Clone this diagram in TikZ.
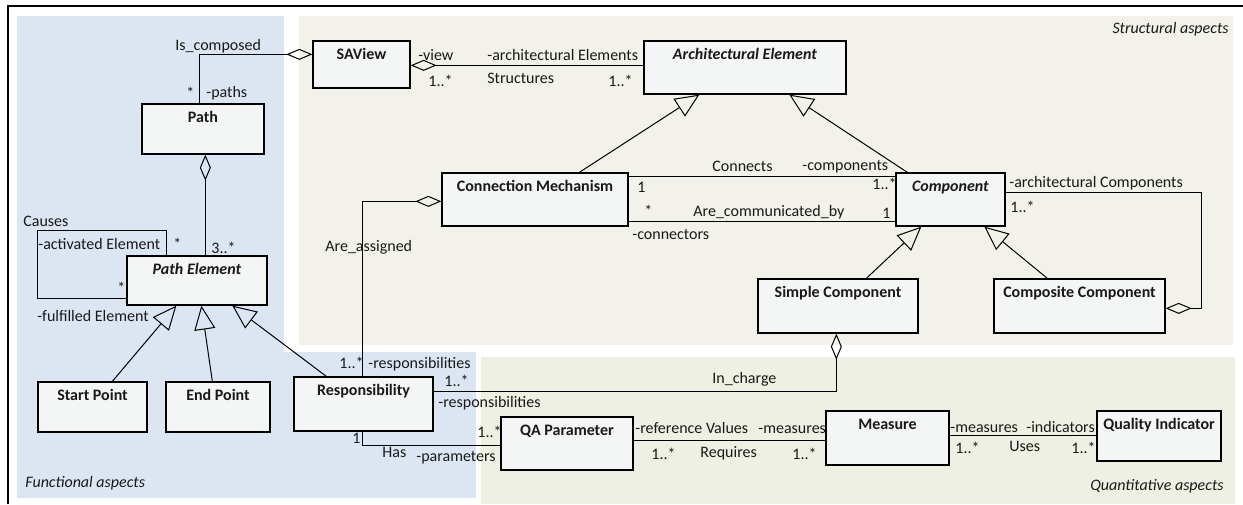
\documentclass[tikz,border=0pt]{standalone}
\usepackage{fontspec}
\setmainfont{Carlito}
\usetikzlibrary{arrows.meta,calc,fit}

\definecolor{funcbg}{RGB}{220,230,242}
\definecolor{structbg}{RGB}{242,241,234}
\definecolor{quantbg}{RGB}{238,240,227}
\definecolor{boxfill}{RGB}{244,246,245}
\definecolor{ink}{RGB}{25,25,25}

% one UML class: name, corners (x1,y1) (x2,y2), title
\newcommand{\umlcls}[6]{%
  \node[clsbox,fit={(#2,#3) (#4,#5)}] (#1) {};
  \node[clstitle] (#1-t) at ($(#1.north)+(0,19.5)$) {#6};}

\begin{document}
\begin{tikzpicture}[x=0.5pt,y=-0.5pt,
  font=\fontsize{8}{9.6}\selectfont,
  clsbox/.style={rectangle,draw=black,line width=0.65pt,fill=boxfill,inner sep=0pt},
  clstitle/.style={anchor=base,inner sep=0pt,text=ink,font=\fontsize{8}{9.6}\selectfont\bfseries},
  lbl/.style={anchor=base west,inner sep=0pt,text=ink},
  area/.style={inner sep=0pt,text=ink,font=\fontsize{8}{9.6}\selectfont\itshape},
  conn/.style={draw=black,line width=0.5pt},
  gen/.style={conn,-{Triangle[open,length=12pt,width=10.5pt]}},
  agg/.style={conn,-{Diamond[open,length=13pt,width=5.5pt]}},
  aggstart/.style={conn,{Diamond[open,length=13pt,width=5.5pt]}-},
]
\useasboundingbox (0,0) rectangle (1243,504);

% background areas
\fill[funcbg] (17,16) rectangle (284,352);
\fill[funcbg] (17,352) rectangle (476,498);
\fill[structbg] (299,16) rectangle (1233,345);
\fill[quantbg] (481,357) rectangle (1235,504);
\draw[line width=1pt] (8,504) -- (8,6) -- (1243,6);

\node[area,anchor=base east] (a-struct) at (1229,33) {Structural aspects};
\node[area,anchor=base west] (a-func) at (25,487) {Functional aspects};
\node[area,anchor=base east] (a-quant) at (1224,490) {Quantitative aspects};

% classes
\umlcls{sav}{313}{41}{410}{88}{SAView}
\umlcls{path}{142}{104}{264}{154}{Path}
\umlcls{ae}{644}{41}{846}{94}{\textit{Architectural Element}}
\umlcls{pe}{127}{256}{267}{305}{\textit{Path Element}}
\umlcls{cm}{442}{173}{628}{226}{Connection Mechanism}
\umlcls{comp}{896}{173}{1005}{226}{\textit{Component}}
\umlcls{sc}{758}{279}{918}{333}{Simple Component}
\umlcls{cc}{994}{279}{1165}{333}{Composite Component}
\umlcls{sp}{38}{382}{147}{432}{Start Point}
\umlcls{ep}{166}{382}{270}{432}{End Point}
\umlcls{resp}{294}{377}{433}{431}{Responsibility}
\umlcls{qa}{501}{417}{633}{470}{QA Parameter}
\umlcls{meas}{826}{411}{949}{465}{Measure}
\umlcls{qi}{1097}{411}{1221}{461}{Quality Indicator}

% aggregations
\draw[agg] ($(path.north west)+(58,0)$) |- ($(sav.north west)+(0,14)$);
\draw[aggstart] ($(sav.north east)+(0,25)$) -- ($(ae.north west)+(0,25)$);
\draw[aggstart] ($(path.south west)+(64,0)$) -- ($(pe.north west)+(79,0)$);
\draw[agg] ($(comp.north east)+(0,20)$) -| ($(cc.north east)+(36,30)$) -- ($(cc.north east)+(0,30)$);
\draw[agg] ($(resp.north west)+(69,0)$) |- ($(cm.north west)+(0,29)$);
\draw[agg] ($(resp.north east)+(0,15)$) -| ($(sc.south west)+(79,0)$);

% generalizations
\draw[gen] ($(cm.north west)+(138,0)$) -- ($(ae.south west)+(56,0)$);
\draw[gen] ($(comp.north west)+(12,0)$) -- ($(ae.south west)+(146,0)$);
\draw[gen] ($(sc.north west)+(109,0)$) -- ($(comp.south west)+(26,0)$);
\draw[gen] ($(cc.north west)+(54,0)$) -- ($(comp.south west)+(89,0)$);
\draw[gen] ($(sp.north west)+(75,0)$) -- ($(pe.south west)+(50,0)$);
\draw[gen] ($(ep.north west)+(47,0)$) -- ($(pe.south west)+(75,0)$);
\draw[gen] ($(resp.north west)+(33,0)$) -- ($(pe.south west)+(106,0)$);

% plain associations
\draw[conn] ($(cm.north east)+(0,4)$) -- ($(comp.north west)+(0,4)$);
\draw[conn] ($(cm.south east)+(0,-5)$) -- ($(comp.south west)+(0,-5)$);
\draw[conn] ($(pe.north west)+(40,0)$) |- ($(pe.north west)+(-89,-25)$) |- ($(pe.south west)+(0,-7)$);
\draw[conn] ($(resp.south west)+(69,0)$) |- ($(qa.north west)+(0,29)$);
\draw[conn] ($(qa.north east)+(0,24)$) -- ($(meas.north west)+(0,30)$);
\draw[conn] ($(meas.north east)+(0,25)$) -- ($(qi.north west)+(0,25)$);

% association labels
\node[lbl] (l-iscomp) at (175,50) {Is\_composed};
\node[lbl] (l-pstar) at (186,98) {*};
\node[lbl] (l-paths) at (206,97) {-paths};
\node[lbl] (l-view) at (418,60) {-view};
\node[lbl] (l-vmult) at (428,86) {1..*};
\node[lbl] (l-archel) at (487,60) {-architectural Elements};
\node[lbl] (l-struct) at (487,83) {Structures};
\node[lbl] (l-aemult) at (608,86) {1..*};
\node[lbl] (l-causes) at (23,226) {Causes};
\node[lbl] (l-activ) at (38,249) {-activated Element};
\node[lbl] (l-actstar) at (173,249) {*};
\node[lbl] (l-3star) at (211,253) {3..*};
\node[lbl] (l-fulstar) at (117,293) {*};
\node[lbl] (l-fulf) at (37,321) {-fulfilled Element};
\node[lbl] (l-connects) at (712,171) {Connects};
\node[lbl] (l-cm1) at (637,192) {1};
\node[lbl] (l-cmstar) at (644,216) {*};
\node[lbl] (l-arecomm) at (693,216) {Are\_communicated\_by};
\node[lbl] (l-connectors) at (632,239) {-connectors};
\node[lbl] (l-components) at (802,170) {-components};
\node[lbl] (l-compmult) at (872,189) {1..*};
\node[lbl] (l-comp1) at (882,218) {1};
\node[lbl] (l-archcomp) at (1009,187) {-architectural Components};
\node[lbl] (l-archcompm) at (1010,212) {1..*};
\node[lbl] (l-assigned) at (325,251) {Are\_assigned};
\node[lbl] (l-resm) at (339,368) {1..*};
\node[lbl] (l-resp1) at (368,368) {-responsibilities};
\node[lbl] (l-ichm) at (444,386) {1..*};
\node[lbl] (l-incharge) at (712,383) {In\_charge};
\node[lbl] (l-resp2) at (438,407) {-responsibilities};
\node[lbl] (l-has1) at (352,443) {1};
\node[lbl] (l-has) at (382,457) {Has};
\node[lbl] (l-qam) at (477,437) {1..*};
\node[lbl] (l-params) at (416,461) {-parameters};
\node[lbl] (l-refval) at (635,433) {-reference Values};
\node[lbl] (l-meas1) at (758,433) {-measures};
\node[lbl] (l-reqm1) at (651,459) {1..*};
\node[lbl] (l-requires) at (700,457) {Requires};
\node[lbl] (l-reqm2) at (792,459) {1..*};
\node[lbl] (l-meas2) at (950,432) {-measures};
\node[lbl] (l-indic) at (1026,432) {-indicators};
\node[lbl] (l-usem1) at (955,453) {1..*};
\node[lbl] (l-uses) at (1009,451) {Uses};
\node[lbl] (l-usem2) at (1071,453) {1..*};
\end{tikzpicture}
\end{document}
